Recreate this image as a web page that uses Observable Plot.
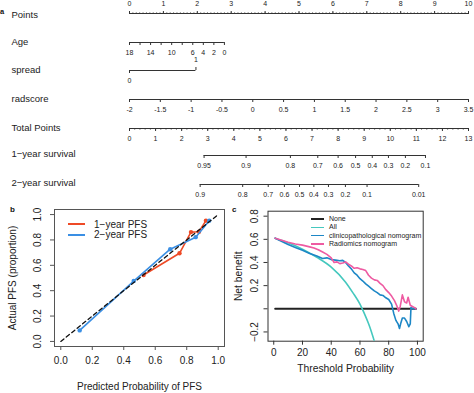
<!DOCTYPE html>
<html><head><meta charset="utf-8">
<script src="https://cdn.jsdelivr.net/npm/d3@7"></script>
<script src="https://cdn.jsdelivr.net/npm/@observablehq/plot@0.6"></script>
<style>
body{margin:0;background:#fff;}
#root{position:relative;width:474px;height:393px;overflow:hidden;background:#fff;font-family:"Liberation Sans",Arial,Helvetica,sans-serif;color:#222;}
</style></head><body><div id="root"></div>
<script>
// ---------- DATA ----------
// Nomogram (panel a)
const pointsLabels = [0,1,2,3,4,5,6,7,8,9,10];
const ageTicks = [18,16,14,12,10,8,6,4,2,0];
const ageLabels = [18,14,10,6,4,2,0];
const ageDomain = [18, 0];
const agePointsSpan = [0, 2.8];          // points given by age 18 .. age 0
const spreadLevels = [0, 1];
const spreadPointsSpan = [0, 1.96];
const radscoreTicks = [-2,-1.5,-1,-0.5,0,0.5,1,1.5,2,2.5,3,3.5];
const radscorePointsSpan = [0, 10];
const totalTicks = [0,1,2,3,4,5,6,7,8,9,10,11,12,13];
const surv1Labels = ["0.95","0.9","0.8","0.7","0.6","0.5","0.4","0.3","0.2","0.1"];
const surv1Total  = [2.86,4.47,6.17,7.22,8.0,8.67,9.31,9.93,10.58,11.35];
const surv2Labels = ["0.9","0.8","0.7","0.6","0.5","0.4","0.3","0.2","0.1","0.01"];
const surv2Total  = [2.71,4.34,5.32,5.94,6.52,7.07,7.63,8.28,9.11,11.09];

// Calibration (panel b)
const calTicks = [0,0.2,0.4,0.6,0.8,1.0];
const pfs1X = [0.526,0.754,0.827,0.878,0.922];
const pfs1Y = [0.524,0.695,0.862,0.865,0.952];
const pfs2X = [0.12,0.463,0.695,0.857,0.943];
const pfs2Y = [0.087,0.476,0.727,0.822,0.952];
const idealLine = [0, 1];

// Decision curves (panel c)
const dcaXTicks = [0,20,40,60,80,100];
const dcaYTicks = [-0.2,0,0.2,0.4,0.6,0.8];
const noneX = [1, 99];
const noneY = [0, 0];
const allX = [1,10,20,30,40,50,55,60,63,66,68,70];
const allY = [0.61,0.57,0.515,0.445,0.36,0.23,0.14,0.04,-0.04,-0.13,-0.2,-0.28];
const clinX = [1,5,10,15,20,25,30,34,37,40,43,46,48,50,52,54,56,58,60,62,64,66,68,70,72,74,76,78,80,82,83.5,85,86.5,87.5,88.5,89.5,91,92.5,94,95,95.5,97,99];
const clinY = [0.61,0.585,0.555,0.53,0.505,0.478,0.455,0.435,0.44,0.425,0.42,0.415,0.418,0.40,0.37,0.345,0.31,0.29,0.26,0.24,0.215,0.195,0.175,0.155,0.14,0.12,0.115,0.095,0.08,0.04,-0.04,-0.1,-0.13,-0.17,-0.12,-0.08,-0.08,-0.11,-0.155,-0.13,0.01,0.0,0.0];
const radX = [1,5,10,15,20,25,28,31,34,37,40,42,44,46,48,50,52,54,56,58,60,62,64,66,68,70,72,74,76,78,80,82,84,85.5,87,88,89.5,91,92.5,93.5,95,96.5,98,99];
const radY = [0.61,0.595,0.575,0.56,0.55,0.535,0.525,0.51,0.49,0.47,0.44,0.40,0.405,0.39,0.395,0.405,0.385,0.37,0.35,0.355,0.345,0.34,0.33,0.29,0.265,0.25,0.245,0.22,0.2,0.165,0.14,0.11,0.07,0.03,-0.02,0.02,0.12,0.06,0.05,0.10,0.03,0.02,0.01,0.0];

// ---------- LAYOUT ----------
const FONT = '"Liberation Sans", Arial, Helvetica, sans-serif';
const root = document.getElementById("root");
const pointsPx = d3.scaleLinear([0, 10], [129, 468]);
const totalPx = d3.scaleLinear([0, 13], [129, 468]);
const fmt = d => d < 0 ? "-" + Math.abs(d) : String(d);

function place(node, left, top) {
  node.style.position = "absolute";
  node.style.left = left + "px";
  node.style.top = top + "px";
  root.appendChild(node);
}

function nomRow(o) {
  const d0 = o.extent[0], d1 = o.extent[1];
  const marks = [Plot.ruleY([o.base === "top" ? 1 : 0], {x1: d0, x2: d1, stroke: "#333", strokeWidth: 1})];
  for (const a of o.axes) {
    const lab = a.labelOf || (d => (a.labels && a.labels.includes(d)) ? fmt(d) : "");
    marks.push(Plot.axisX({anchor: a.anchor, ticks: a.ticks, tickSize: a.size ?? 3, tickPadding: 4.5,
      tickFormat: lab, label: null, stroke: "#333"}));
  }
  marks.push(Plot.text([o.label], {text: d => d, frameAnchor: "left", textAnchor: "start", fontSize: 9.5, fill: "#222", dy: o.labelDy ?? 0}));
  const svg = Plot.plot({
    width: 474, height: 30, marginTop: 15, marginBottom: 14, marginLeft: 11, marginRight: 0,
    x: {domain: o.domain, range: o.range}, y: {domain: [0, 1], axis: null},
    style: {background: "transparent", overflow: "visible", fontFamily: FONT, fontSize: "7px", color: "#222"},
    marks
  });
  place(svg, 0, o.lineY - (o.base === "top" ? 15 : 16));
}

function survAxis(totals, labels) {
  const m = new Map(totals.map((t, i) => [t, labels[i]]));
  return {anchor: "bottom", ticks: totals, size: 3, labelOf: d => m.get(d) ?? ""};
}

nomRow({label: "Points", lineY: 13.3, base: "top", labelDy: 0.5,
  domain: [0, 10], extent: [0, 10], range: pointsPx.range(),
  axes: [{anchor: "top", ticks: d3.range(0, 10.001, 0.1), size: 1.5},
         {anchor: "top", ticks: pointsLabels, labels: pointsLabels, size: 3}]});
nomRow({label: "Age", lineY: 42.3, base: "bottom",
  domain: ageDomain, extent: ageDomain, range: agePointsSpan.map(pointsPx),
  axes: [{anchor: "bottom", ticks: ageTicks, labels: ageLabels, size: 3}]});
nomRow({label: "spread", lineY: 70.3, base: "bottom",
  domain: spreadLevels, extent: spreadLevels, range: spreadPointsSpan.map(pointsPx),
  axes: [{anchor: "top", ticks: [spreadLevels[1]], labels: [spreadLevels[1]], size: 3},
         {anchor: "bottom", ticks: [spreadLevels[0]], labels: [spreadLevels[0]], size: 3}]});
nomRow({label: "radscore", lineY: 98.5, base: "bottom",
  domain: [radscoreTicks[0], radscoreTicks[radscoreTicks.length - 1]],
  extent: [radscoreTicks[0], radscoreTicks[radscoreTicks.length - 1]], range: radscorePointsSpan.map(pointsPx),
  axes: [{anchor: "bottom", ticks: radscoreTicks, labels: radscoreTicks, size: 3}]});
nomRow({label: "Total Points", lineY: 127.5, base: "bottom",
  domain: [0, 13], extent: [0, 13], range: totalPx.range(),
  axes: [{anchor: "bottom", ticks: d3.range(0, 13.001, 0.2), size: 1.5},
         {anchor: "bottom", ticks: totalTicks, labels: totalTicks, size: 3}]});
nomRow({label: "1\u2212year survival", lineY: 155.3, base: "bottom", labelDy: -1.5,
  domain: [0, 13], extent: [surv1Total[0], surv1Total[surv1Total.length - 1]], range: totalPx.range(),
  axes: [survAxis(surv1Total, surv1Labels)]});
nomRow({label: "2\u2212year survival", lineY: 184, base: "bottom", labelDy: -1.5,
  domain: [0, 13], extent: [surv2Total[0], surv2Total[surv2Total.length - 1]], range: totalPx.range(),
  axes: [survAxis(surv2Total, surv2Labels)]});

// ---------- Panel b ----------
const RED = "#EE4A26", BLUE = "#3A8FE4";
const pfs1 = pfs1X.map((x, i) => ({x, y: pfs1Y[i]}));
const pfs2 = pfs2X.map((x, i) => ({x, y: pfs2Y[i]}));
const svgB = Plot.plot({
  width: 237, height: 198, marginLeft: 54, marginRight: 13, marginTop: 14, marginBottom: 47,
  x: {domain: [-0.04, 1.04]}, y: {domain: [-0.04, 1.04]},
  style: {background: "transparent", overflow: "visible", fontFamily: FONT, fontSize: "10px", color: "#222"},
  marks: [
    Plot.frame({stroke: "#555"}),
    Plot.axisX({ticks: calTicks, tickSize: 4, tickPadding: 6.5, tickFormat: d => d.toFixed(1), label: null, stroke: "#555"}),
    Plot.axisY({ticks: calTicks, tickSize: 4, tickFormat: () => "", label: null, stroke: "#555"}),
    Plot.text(calTicks, {y: d => d, text: d => d.toFixed(1), frameAnchor: "left", textAnchor: "middle", lineAnchor: "middle", dx: -16.5, rotate: -90, fontSize: 10}),
    Plot.line(pfs1, {x: "x", y: "y", stroke: RED, strokeWidth: 1.6}),
    Plot.dot(pfs1, {x: "x", y: "y", fill: RED, r: 2.2}),
    Plot.line(pfs2, {x: "x", y: "y", stroke: BLUE, strokeWidth: 1.6}),
    Plot.dot(pfs2, {x: "x", y: "y", fill: BLUE, r: 2.2}),
    Plot.line(idealLine, {x: d => d, y: d => d, stroke: "#111", strokeWidth: 1.3, strokeDasharray: "4,3"}),
    Plot.text(["Predicted Probability of PFS"], {text: d => d, frameAnchor: "bottom", textAnchor: "middle", lineAnchor: "middle", dy: 40.7, fontSize: 10}),
    Plot.text(["Actual PFS (proportion)"], {text: d => d, frameAnchor: "left", textAnchor: "middle", lineAnchor: "middle", dx: -41.3, rotate: -90, fontSize: 10})
  ]
});
place(svgB, 0, 195);

// ---------- Panel c ----------
const C_ALL = "#45C8BE", C_CLIN = "#1D87C6", C_RAD = "#EE5BA2";
const toPts = (xs, ys) => xs.map((x, i) => ({x, y: ys[i]}));
const svgC = Plot.plot({
  width: 237, height: 198, marginLeft: 30.5, marginRight: 51.3, marginTop: 15.7, marginBottom: 52.3,
  x: {domain: [-4, 104]}, y: {domain: [-0.28, 0.843]},
  style: {background: "transparent", overflow: "visible", fontFamily: FONT, fontSize: "10px", color: "#222"},
  marks: [
    Plot.frame({stroke: "#333"}),
    Plot.axisX({ticks: dcaXTicks, tickSize: 4, tickPadding: 3.5, tickFormat: d => String(d), label: null, stroke: "#333"}),
    Plot.axisY({ticks: dcaYTicks, tickSize: 4, tickFormat: () => "", label: null, stroke: "#333"}),
    Plot.text(dcaYTicks.filter(d => d !== 0), {y: d => d, text: d => d < 0 ? "\u2212" + Math.abs(d).toFixed(1) : d.toFixed(1), frameAnchor: "left", textAnchor: "middle", lineAnchor: "middle", dx: -13.5, rotate: -90, fontSize: 10}),
    Plot.line(toPts(noneX, noneY), {x: "x", y: "y", stroke: "#222", strokeWidth: 2}),
    Plot.line(toPts(allX, allY), {x: "x", y: "y", stroke: C_ALL, strokeWidth: 1.6, curve: "monotone-x", clip: true}),
    Plot.line(toPts(clinX, clinY), {x: "x", y: "y", stroke: C_CLIN, strokeWidth: 1.6, clip: true}),
    Plot.line(toPts(radX, radY), {x: "x", y: "y", stroke: C_RAD, strokeWidth: 1.6, clip: true}),
    Plot.text(["Threshold Probability"], {text: d => d, frameAnchor: "bottom", textAnchor: "middle", lineAnchor: "middle", dy: 27.6, fontSize: 10.3}),
    Plot.text(["Net benefit"], {text: d => d, frameAnchor: "left", textAnchor: "middle", lineAnchor: "middle", dx: -29.2, rotate: -90, fontSize: 10.3})
  ]
});
place(svgC, 237, 195);

// ---------- Legends and panel letters ----------
function legend(items, o) {
  items.forEach((it, i) => {
    const y = o.ys[i];
    const line = document.createElement("div");
    line.style.cssText = `position:absolute;left:${o.x0}px;top:${y - it.lw / 2}px;width:${o.x1 - o.x0}px;height:${it.lw}px;background:${it.color}`;
    root.appendChild(line);
    const t = document.createElement("div");
    t.textContent = it.label;
    t.style.cssText = `position:absolute;left:${o.tx}px;top:${y - o.fs * 0.58}px;font-size:${o.fs}px;line-height:${o.fs * 1.15}px;white-space:nowrap;color:#222`;
    root.appendChild(t);
  });
}
legend([{label: "1\u2212year PFS", color: RED, lw: 1.8}, {label: "2\u2212year PFS", color: BLUE, lw: 1.8}],
  {x0: 68.3, x1: 85, tx: 94, ys: [224.3, 235], fs: 10});
legend([{label: "None", color: "#222", lw: 2}, {label: "All", color: C_ALL, lw: 1.5},
        {label: "clinicopathological nomogram", color: C_CLIN, lw: 1.5}, {label: "Radiomics nomogram", color: C_RAD, lw: 1.5}],
  {x0: 311, x1: 324.3, tx: 329, ys: [219, 227.3, 235.7, 244], fs: 7});

function letter(txt, x, y, fs) {
  const d = document.createElement("div");
  d.textContent = txt;
  d.style.cssText = `position:absolute;left:${x}px;top:${y - fs * 0.6}px;font-size:${fs}px;line-height:${fs * 1.2}px;font-weight:bold;color:#111`;
  root.appendChild(d);
}
letter("a", 0, 11, 7.5);
letter("b", 10, 210, 8);
letter("c", 232, 210, 8);
</script></body></html>
